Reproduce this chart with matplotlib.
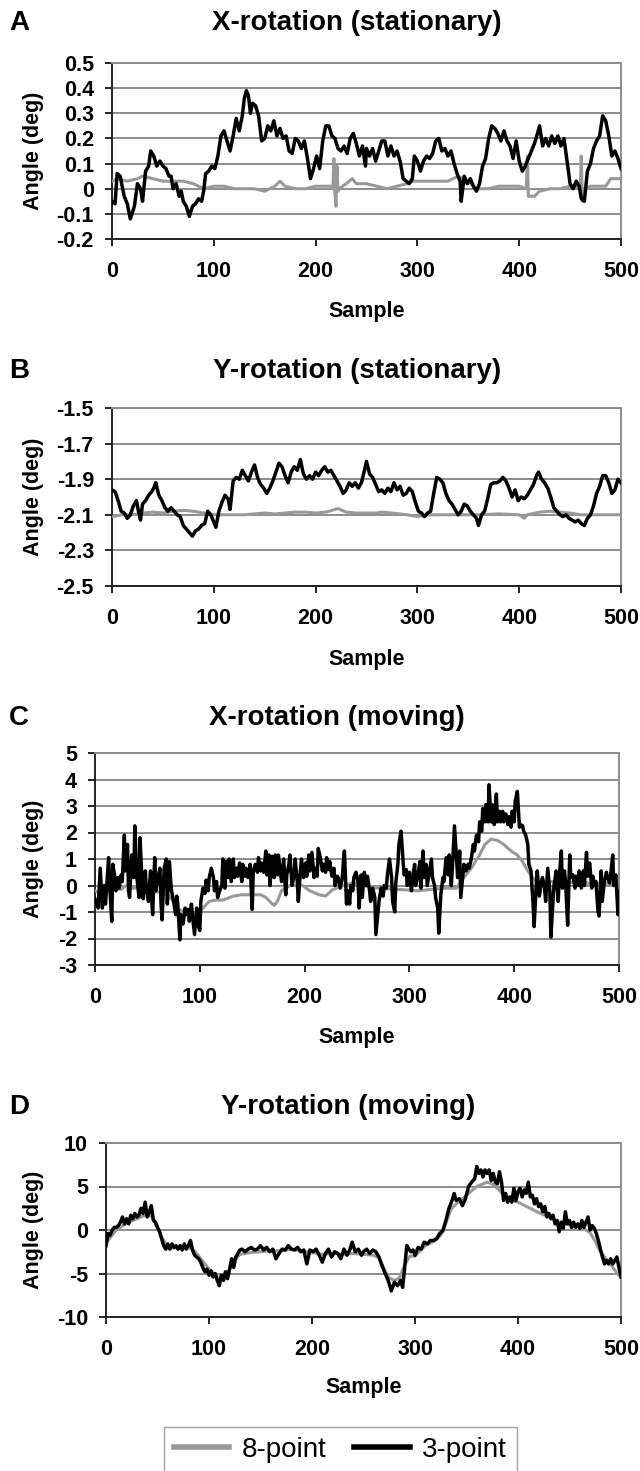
import matplotlib
matplotlib.use("Agg")
import matplotlib.pyplot as plt
from matplotlib.lines import Line2D

plt.rcParams['font.family'] = ['Liberation Sans', 'DejaVu Sans']
plt.rcParams['axes.unicode_minus'] = False

# ---- data: (sample, angle) pairs ----
# A: X-rotation (stationary)
a_gray = [(0, 0.03), (5, 0.04), (15, 0.03), (25, 0.04), (30, 0.05), (40, 0.04), (50, 0.03),
          (60, 0.03), (70, 0.03), (80, 0.02), (90, 0.0), (100, 0.01), (110, 0.01), (120, 0.0),
          (130, 0.0), (140, 0.0), (150, -0.01), (160, 0.01), (165, 0.03), (170, 0.01), (180, 0.0),
          (190, 0.0), (200, 0.01), (210, 0.01), (215, 0.01), (217, 0.0), (218, 0.12), (219, -0.02),
          (220, -0.07), (221, 0.09), (222, -0.01), (223, 0.0), (230, 0.02), (236, 0.04), (240, 0.02),
          (250, 0.02), (260, 0.01), (270, 0.0), (280, 0.01), (290, 0.02), (295, 0.03), (300, 0.03),
          (310, 0.03), (320, 0.03), (330, 0.03), (340, 0.05), (350, 0.03), (355, 0.01), (360, 0.0),
          (370, 0.0), (380, 0.01), (390, 0.01), (400, 0.01), (407, 0.0), (408, 0.13), (409, -0.03),
          (415, -0.03), (420, -0.01), (430, 0.0), (440, 0.0), (450, 0.01), (460, 0.01), (461, 0.13),
          (462, -0.05), (464, 0.0), (470, 0.01), (480, 0.01), (485, 0.01), (490, 0.04), (500, 0.04)]
a_black = [(0, -0.05), (3, -0.06), (5, 0.06), (8, 0.05), (12, -0.03), (15, -0.06), (18, -0.12),
           (22, -0.07), (25, 0.02), (28, 0.0), (30, -0.05), (33, 0.07), (36, 0.09), (38, 0.15),
           (41, 0.13), (44, 0.09), (47, 0.11), (50, 0.09), (53, 0.08), (56, 0.05), (58, 0.05),
           (60, 0.0), (63, 0.02), (66, -0.03), (68, -0.01), (70, -0.05), (73, -0.07), (76, -0.11),
           (79, -0.07), (82, -0.06), (85, -0.04), (88, -0.05), (90, -0.01), (92, 0.06), (95, 0.07),
           (98, 0.09), (101, 0.08), (104, 0.13), (107, 0.21), (110, 0.23), (113, 0.19), (116, 0.15),
           (119, 0.21), (122, 0.28), (125, 0.23), (128, 0.29), (130, 0.36), (132, 0.39), (134, 0.37),
           (136, 0.30), (138, 0.34), (141, 0.33), (144, 0.29), (147, 0.19), (150, 0.20), (153, 0.25),
           (156, 0.23), (159, 0.27), (162, 0.21), (165, 0.24), (168, 0.20), (171, 0.21), (174, 0.15),
           (177, 0.14), (180, 0.20), (183, 0.19), (186, 0.16), (189, 0.19), (192, 0.12), (195, 0.04),
           (198, 0.08), (201, 0.13), (204, 0.08), (207, 0.19), (210, 0.25), (213, 0.25), (216, 0.21),
           (219, 0.20), (222, 0.16), (225, 0.15), (228, 0.17), (231, 0.14), (234, 0.20), (237, 0.22),
           (240, 0.18), (243, 0.13), (246, 0.17), (249, 0.09), (250, 0.16), (253, 0.13), (256, 0.16),
           (259, 0.11), (262, 0.15), (265, 0.19), (268, 0.19), (271, 0.13), (274, 0.17), (277, 0.13),
           (280, 0.15), (283, 0.11), (286, 0.04), (289, 0.03), (292, 0.02), (295, 0.04), (297, 0.13),
           (300, 0.11), (303, 0.07), (306, 0.11), (309, 0.13), (312, 0.12), (315, 0.14), (318, 0.19),
           (321, 0.20), (324, 0.15), (327, 0.16), (330, 0.13), (333, 0.15), (336, 0.10), (339, 0.06),
           (342, 0.03), (343, -0.05), (346, 0.05), (349, 0.02), (352, 0.04), (355, 0.01), (358, -0.01),
           (361, 0.02), (364, 0.09), (367, 0.12), (370, 0.20), (373, 0.25), (376, 0.24), (379, 0.22),
           (382, 0.19), (385, 0.23), (388, 0.19), (391, 0.17), (394, 0.12), (397, 0.19), (400, 0.11),
           (403, 0.07), (406, 0.09), (409, 0.12), (412, 0.15), (415, 0.18), (418, 0.22), (420, 0.25),
           (423, 0.17), (426, 0.20), (429, 0.17), (432, 0.21), (435, 0.18), (438, 0.21), (441, 0.17),
           (444, 0.20), (447, 0.11), (450, 0.02), (453, 0.0), (456, 0.03), (459, 0.01), (461, -0.04),
           (464, -0.05), (467, 0.07), (470, 0.10), (473, 0.16), (476, 0.19), (479, 0.21), (482, 0.29),
           (485, 0.27), (488, 0.21), (491, 0.13), (494, 0.15), (497, 0.12), (500, 0.08)]

# B: Y-rotation (stationary)
b_gray = [(0, -2.11), (10, -2.10), (20, -2.10), (30, -2.09), (40, -2.085), (50, -2.09), (60, -2.08),
          (70, -2.075), (80, -2.08), (90, -2.09), (100, -2.10), (110, -2.10), (120, -2.10), (130, -2.10),
          (140, -2.095), (150, -2.09), (160, -2.095), (170, -2.09), (180, -2.085), (190, -2.085),
          (200, -2.09), (210, -2.085), (222, -2.065), (230, -2.085), (240, -2.09), (250, -2.09),
          (260, -2.09), (265, -2.085), (275, -2.09), (290, -2.10), (300, -2.11), (310, -2.10),
          (320, -2.10), (340, -2.10), (360, -2.10), (380, -2.095), (400, -2.10), (405, -2.12),
          (408, -2.10), (420, -2.085), (430, -2.08), (440, -2.085), (450, -2.09), (460, -2.10),
          (480, -2.10), (500, -2.10)]
b_black = [(0, -1.96), (3, -1.97), (6, -2.02), (9, -2.08), (12, -2.09), (15, -2.12), (18, -2.10),
           (21, -2.05), (24, -2.02), (26, -2.08), (28, -2.13), (30, -2.04), (33, -2.02), (36, -1.99),
           (39, -1.97), (41, -1.95), (43, -1.92), (46, -1.99), (49, -2.02), (52, -2.06), (55, -2.08),
           (58, -2.06), (61, -2.08), (64, -2.10), (67, -2.11), (70, -2.16), (73, -2.18), (76, -2.20),
           (79, -2.22), (82, -2.19), (85, -2.18), (88, -2.16), (91, -2.15), (94, -2.08), (97, -2.10),
           (100, -2.14), (102, -2.17), (105, -2.08), (108, -2.03), (111, -1.99), (114, -2.01),
           (116, -2.07), (119, -1.91), (122, -1.89), (125, -1.90), (128, -1.85), (131, -1.88),
           (134, -1.91), (137, -1.86), (140, -1.82), (143, -1.89), (146, -1.93), (149, -1.95),
           (152, -1.98), (155, -1.95), (158, -1.91), (161, -1.86), (164, -1.81), (167, -1.83),
           (170, -1.88), (173, -1.92), (176, -1.86), (179, -1.83), (182, -1.85), (185, -1.79),
           (188, -1.87), (191, -1.90), (194, -1.88), (197, -1.90), (200, -1.86), (203, -1.88),
           (206, -1.85), (209, -1.83), (212, -1.86), (215, -1.85), (218, -1.88), (221, -1.91),
           (224, -1.94), (227, -1.98), (230, -1.96), (233, -1.92), (236, -1.94), (239, -1.92),
           (242, -1.95), (245, -1.92), (248, -1.85), (250, -1.80), (253, -1.87), (256, -1.89),
           (259, -1.93), (262, -1.97), (265, -1.96), (268, -1.98), (271, -1.95), (274, -1.97),
           (277, -1.92), (280, -1.96), (283, -1.94), (286, -1.99), (289, -1.98), (292, -1.95),
           (295, -1.97), (298, -2.03), (301, -2.08), (304, -2.09), (307, -2.11), (310, -2.09),
           (313, -2.08), (316, -1.98), (319, -1.89), (322, -1.90), (325, -1.92), (328, -1.98),
           (331, -2.02), (334, -2.04), (337, -2.07), (340, -2.10), (343, -2.08), (346, -2.04),
           (349, -2.05), (352, -2.08), (355, -2.10), (358, -2.12), (360, -2.16), (363, -2.10),
           (366, -2.08), (369, -2.01), (372, -1.93), (375, -1.92), (378, -1.92), (381, -1.91),
           (384, -1.89), (387, -1.91), (390, -1.95), (393, -2.00), (396, -1.96), (399, -2.02),
           (402, -2.00), (405, -2.01), (408, -1.99), (411, -1.96), (414, -1.93), (417, -1.88),
           (419, -1.86), (422, -1.90), (425, -1.92), (428, -1.95), (431, -2.00), (434, -2.06),
           (437, -2.08), (440, -2.10), (443, -2.11), (446, -2.10), (449, -2.12), (452, -2.13),
           (455, -2.14), (458, -2.13), (461, -2.15), (464, -2.16), (467, -2.12), (470, -2.10),
           (473, -2.05), (476, -1.98), (479, -1.94), (482, -1.88), (485, -1.88), (488, -1.92),
           (491, -1.98), (494, -1.96), (497, -1.90), (500, -1.92)]

# C: X-rotation (moving)
c_gray = [(0, -0.2), (5, -0.3), (10, -0.1), (15, -0.2), (20, -0.1), (25, -0.15), (30, 0.0), (35, -0.1),
          (40, -0.1), (45, -0.15), (50, -0.2), (55, -0.2), (60, -0.25), (65, -0.3), (70, -0.4),
          (75, -0.6), (80, -0.9), (85, -1.0), (90, -1.1), (95, -1.1), (100, -1.0), (103, -0.85),
          (109, -0.6), (115, -0.55), (122, -0.55), (132, -0.4), (140, -0.35), (150, -0.35),
          (158, -0.35), (163, -0.45), (168, -0.65), (171, -0.75), (174, -0.6), (178, -0.2), (186, 0.0),
          (198, 0.0), (205, -0.2), (214, -0.35), (220, -0.4), (227, -0.15), (237, 0.0), (246, 0.1),
          (255, 0.0), (270, -0.1), (290, -0.15), (308, -0.2), (320, -0.15), (333, -0.1), (345, -0.1),
          (352, 0.3), (359, 0.65), (367, 1.15), (372, 1.55), (378, 1.75), (384, 1.7), (390, 1.55),
          (397, 1.3), (403, 1.15), (408, 0.9), (413, 0.55), (418, 0.3), (422, 0.1), (435, 0.15),
          (450, 0.1), (467, 0.15), (474, 0.0), (485, 0.1), (500, 0.0)]
c_black = [(0, -0.5), (3, -0.85), (5, 0.65), (7, -0.85), (9, 0.0), (10, -0.7), (13, 1.05), (14, 0.0),
           (16, -1.35), (17, 0.8), (19, 0.3), (20, -0.2), (22, 0.3), (23, -0.1), (25, 0.4), (26, 0.15),
           (28, 1.9), (29, 0.55), (31, 1.55), (32, -0.2), (33, -0.45), (35, 1.15), (37, 0.3), (38, 2.25),
           (40, 0.3), (42, -0.45), (43, 1.8), (45, 0.0), (46, -0.5), (48, 0.55), (49, -0.1), (51, -0.6),
           (53, 0.55), (54, -0.45), (55, -1.1), (57, 1.05), (58, -0.2), (60, 0.3), (62, 0.65), (63, -0.7),
           (64, -1.3), (66, 0.65), (68, 1.0), (69, -0.7), (71, 0.9), (72, 0.3), (73, -0.2), (75, -0.6),
           (77, -1.1), (78, -0.4), (79, -0.7), (81, -2.05), (82, -1.1), (84, -1.45), (86, -0.85),
           (87, -1.1), (89, -0.9), (90, -1.35), (92, -0.7), (93, -1.15), (95, -1.85), (97, -0.85),
           (98, -1.45), (100, -1.7), (101, -0.6), (103, -0.1), (105, -0.3), (106, 0.2), (108, -0.2),
           (109, 0.3), (111, 0.65), (113, 0.3), (114, -0.2), (116, 0.15), (117, -0.45), (119, -0.2),
           (121, 0.0), (122, 1.0), (124, -0.1), (125, 0.9), (127, 0.3), (128, 1.0), (130, 0.15),
           (132, 1.0), (133, 0.3), (135, 0.65), (136, 0.35), (138, 0.85), (140, 0.15), (141, 0.8),
           (143, 0.35), (144, 0.65), (146, 0.3), (148, 0.8), (150, -0.9), (151, 0.55), (153, 0.8),
           (155, 0.5), (156, 1.05), (158, 0.55), (159, 0.85), (161, 0.5), (163, 1.3), (164, 0.4),
           (166, 1.15), (167, 0.0), (169, 1.1), (171, 0.3), (172, 1.15), (174, 0.4), (175, 1.15),
           (177, 0.5), (178, 0.15), (180, 1.0), (182, -0.35), (183, 0.4), (185, 0.8), (186, 1.15),
           (188, 0.0), (190, 0.4), (191, 1.0), (193, 0.15), (194, -0.6), (196, 0.55), (197, 1.0),
           (199, 0.3), (201, 0.85), (202, 0.35), (204, 1.15), (205, 0.55), (207, 1.25), (209, 0.3),
           (210, 0.65), (212, 0.35), (213, 1.4), (215, 1.05), (217, 0.55), (218, 0.8), (220, 0.5),
           (221, 1.05), (223, 0.6), (224, 0.9), (226, 0.35), (228, 0.65), (229, 0.0), (231, 0.35),
           (232, 0.3), (234, -0.1), (236, 0.3), (237, 0.9), (238, 1.3), (240, -0.7), (241, -0.2),
           (243, -0.7), (244, 0.0), (246, -0.2), (247, 0.3), (249, 0.5), (251, 0.15), (252, -0.85),
           (254, 0.4), (255, -0.45), (257, 0.5), (259, 0.0), (260, 0.35), (262, -0.2), (263, -0.6),
           (265, -0.1), (267, -0.45), (268, -1.85), (270, -1.0), (271, -0.6), (273, -0.1), (275, -0.4),
           (276, 0.0), (278, -0.1), (279, 0.4), (281, 1.0), (283, 0.3), (284, -0.6), (286, -1.0),
           (287, 0.1), (289, 0.8), (290, 1.55), (292, 2.05), (294, 0.9), (295, 0.4), (297, 0.6),
           (298, 0.0), (300, 0.5), (302, -0.2), (303, 0.3), (305, 0.8), (306, 0.0), (308, 0.35),
           (310, 0.9), (311, -0.1), (313, 1.3), (314, 0.3), (316, 0.8), (317, 0.0), (319, 0.5),
           (321, 1.0), (322, 0.3), (324, 0.0), (325, -0.45), (327, -0.85), (328, -1.8), (330, -0.35),
           (332, 0.3), (333, 0.15), (335, 1.05), (337, 0.4), (338, 1.15), (340, 0.0), (341, 0.65),
           (343, 2.25), (345, 1.0), (346, 0.3), (348, 1.3), (349, -0.45), (351, 0.4), (352, 0.8),
           (354, 0.55), (356, 0.8), (357, 0.65), (359, 1.0), (361, 1.55), (362, 1.3), (364, 1.9),
           (366, 1.65), (367, 2.4), (369, 2.05), (370, 2.9), (372, 2.4), (373, 3.05), (375, 2.4),
           (376, 3.8), (378, 2.4), (379, 3.05), (381, 2.3), (383, 3.45), (384, 2.4), (386, 2.8),
           (387, 2.4), (389, 2.8), (390, 2.4), (392, 2.7), (394, 2.3), (395, 2.6), (397, 2.2),
           (398, 2.8), (400, 2.4), (401, 3.2), (403, 3.55), (405, 2.2), (406, 2.3), (408, 2.25),
           (409, 2.05), (411, 1.9), (413, 1.55), (414, 0.8), (416, 0.55), (418, -0.7), (419, -1.55),
           (421, 0.0), (422, 0.55), (424, -0.4), (426, 0.15), (427, 0.3), (429, -0.1), (430, -0.6),
           (432, 0.65), (434, -0.2), (435, -1.95), (437, -0.6), (438, 0.0), (440, 0.55), (442, -0.6),
           (443, 0.3), (445, 1.3), (446, -0.1), (448, 0.55), (449, 0.15), (451, -1.5), (453, 1.15),
           (454, 0.3), (456, 0.4), (458, -0.1), (459, 0.35), (461, 0.0), (462, 0.55), (464, -0.1),
           (466, 0.55), (467, 0.0), (469, 1.25), (470, 0.35), (472, 0.85), (474, -0.1), (475, 0.35),
           (477, 0.0), (478, 0.15), (480, -1.0), (481, -1.15), (483, 0.55), (484, -0.6), (486, 0.15),
           (488, 0.5), (489, 0.3), (491, 0.1), (492, 0.4), (494, 1.15), (495, 0.0), (497, 0.4),
           (499, -1.1), (500, -0.2)]

# D: Y-rotation (moving)
d_gray = [(0, -1.5), (10, 0.0), (20, 0.8), (30, 1.3), (40, 1.8), (45, 1.5), (50, 0.2), (55, -1.0),
          (60, -2.0), (70, -2.1), (80, -2.0), (85, -2.3), (90, -3.0), (100, -4.5), (110, -5.6),
          (115, -5.5), (120, -4.5), (125, -3.5), (130, -2.8), (140, -2.6), (150, -2.5), (160, -2.4),
          (170, -2.4), (180, -2.2), (190, -2.4), (200, -2.6), (210, -2.8), (220, -2.7), (230, -2.8),
          (240, -2.7), (250, -2.8), (260, -2.9), (265, -3.2), (270, -4.5), (275, -5.5), (280, -5.8),
          (285, -5.5), (290, -4.0), (295, -3.0), (300, -3.0), (305, -2.4), (310, -1.8), (320, -1.2),
          (325, -0.6), (330, 0.8), (335, 2.4), (340, 3.0), (350, 4.0), (360, 5.0), (370, 5.5),
          (375, 5.3), (380, 4.8), (390, 3.5), (400, 3.2), (410, 2.6), (420, 2.0), (430, 1.5),
          (440, 0.9), (450, 0.6), (460, 0.4), (470, -0.3), (475, -1.3), (480, -2.5), (490, -4.0),
          (500, -5.5)]
d_black = [(0, -1.8), (2, -0.4), (4, -0.6), (6, 0.0), (8, 0.3), (10, 0.3), (12, 0.5), (14, 0.9),
           (16, 1.5), (18, 0.7), (20, 1.3), (22, 0.7), (24, 1.7), (26, 1.3), (28, 1.9), (30, 1.5),
           (32, 1.7), (34, 2.5), (36, 1.9), (38, 3.2), (40, 1.5), (42, 2.1), (44, 2.8), (46, 1.1),
           (48, 0.9), (50, 0.3), (52, -0.2), (54, -1.0), (56, -1.8), (58, -2.2), (60, -1.6), (62, -2.2),
           (64, -1.6), (66, -2.0), (68, -1.8), (70, -2.2), (72, -1.8), (74, -2.3), (76, -1.6), (78, -2.2),
           (80, -1.8), (82, -1.2), (84, -2.3), (86, -2.9), (88, -3.1), (90, -3.3), (92, -3.7), (94, -4.3),
           (96, -4.8), (98, -4.5), (100, -5.2), (102, -4.7), (104, -5.4), (106, -5.0), (108, -5.8),
           (110, -6.4), (112, -5.2), (114, -5.8), (116, -4.8), (118, -5.6), (120, -4.5), (122, -3.3),
           (124, -4.3), (126, -3.1), (128, -2.7), (130, -2.3), (132, -2.2), (135, -2.5), (138, -2.2),
           (141, -2.0), (144, -2.3), (147, -2.2), (150, -1.8), (153, -2.3), (156, -2.0), (159, -2.5),
           (162, -2.2), (165, -3.3), (168, -2.7), (171, -2.2), (174, -2.3), (177, -1.8), (180, -2.2),
           (183, -2.3), (186, -2.0), (189, -2.5), (192, -2.3), (195, -3.9), (198, -2.3), (201, -2.5),
           (204, -2.2), (207, -2.9), (210, -3.7), (213, -2.7), (216, -2.2), (219, -3.1), (222, -2.5),
           (225, -2.7), (228, -3.3), (231, -2.2), (234, -2.9), (237, -2.2), (239, -1.4), (242, -2.5),
           (245, -2.2), (248, -2.9), (250, -2.5), (253, -2.2), (256, -2.7), (259, -2.3), (262, -2.5),
           (265, -3.1), (268, -4.1), (271, -5.0), (274, -5.8), (277, -7.0), (280, -6.0), (283, -6.4),
           (286, -5.8), (288, -6.6), (290, -4.3), (292, -1.8), (294, -2.2), (296, -2.5), (298, -2.3),
           (300, -2.9), (303, -2.0), (306, -2.2), (309, -1.4), (312, -1.6), (315, -1.2), (318, -1.2),
           (321, -1.0), (324, -0.4), (327, -0.1), (330, 1.1), (333, 2.5), (336, 3.4), (338, 4.2),
           (340, 3.4), (343, 3.6), (346, 2.8), (349, 3.6), (352, 5.0), (355, 5.5), (358, 5.9),
           (360, 7.3), (362, 6.5), (364, 6.9), (366, 6.1), (368, 6.9), (370, 6.5), (372, 6.9),
           (374, 5.7), (376, 6.5), (378, 5.5), (380, 5.3), (382, 6.7), (384, 5.5), (386, 3.4),
           (388, 4.2), (390, 3.2), (392, 3.8), (394, 3.2), (396, 4.8), (398, 3.4), (400, 4.4),
           (402, 4.8), (404, 3.8), (406, 4.6), (408, 4.2), (410, 5.5), (412, 3.8), (414, 4.0),
           (416, 3.0), (418, 3.6), (420, 2.7), (422, 3.0), (424, 2.1), (426, 2.7), (428, 1.5),
           (430, 1.9), (432, 1.3), (434, 1.7), (436, 0.7), (438, 1.1), (440, -0.2), (442, 0.9),
           (444, 0.2), (446, 2.1), (448, 0.7), (450, 1.1), (452, 0.3), (454, 0.9), (456, 0.3),
           (458, 0.7), (460, 0.2), (462, 1.1), (464, 0.3), (466, 0.9), (468, 1.5), (470, 0.0),
           (472, 0.5), (474, 0.2), (476, -0.4), (478, -1.2), (480, -2.2), (482, -3.1), (484, -3.9),
           (486, -3.5), (488, -3.9), (490, -3.3), (492, -3.9), (494, -3.5), (496, -3.1), (498, -4.3),
           (500, -5.4)]

x_ticks = [0, 100, 200, 300, 400, 500]
a_yticks = [-0.2, -0.1, 0, 0.1, 0.2, 0.3, 0.4, 0.5]
a_ylabels = ['-0.2', '-0.1', '0', '0.1', '0.2', '0.3', '0.4', '0.5']
b_yticks = [-2.5, -2.3, -2.1, -1.9, -1.7, -1.5]
b_ylabels = ['-2.5', '-2.3', '-2.1', '-1.9', '-1.7', '-1.5']
c_yticks = [-3, -2, -1, 0, 1, 2, 3, 4, 5]
c_ylabels = ['-3', '-2', '-1', '0', '1', '2', '3', '4', '5']
d_yticks = [-10, -5, 0, 5, 10]
d_ylabels = ['-10', '-5', '0', '5', '10']

# ---- layout (pixel boxes measured on the reference) ----
W, H = 640, 1471
GRAY = '#999999'
GRID = '#8c8c8c'

fig = plt.figure(figsize=(W / 100, H / 100), dpi=100)

panels = [
    dict(letter='A', title='X-rotation (stationary)', box=(112, 63, 621, 239), title_xy=(357, 23),
         ylim=(-0.2, 0.5), yt=a_yticks, yl=a_ylabels, gray=a_gray, black=a_black, label_y=312),
    dict(letter='B', title='Y-rotation (stationary)', box=(112, 408, 621, 586), title_xy=(357, 371),
         ylim=(-2.5, -1.5), yt=b_yticks, yl=b_ylabels, gray=b_gray, black=b_black, label_y=659),
    dict(letter='C', title='X-rotation (moving)', box=(95, 753, 619, 965), title_xy=(337, 718),
         ylim=(-3, 5), yt=c_yticks, yl=c_ylabels, gray=c_gray, black=c_black, label_y=1038),
    dict(letter='D', title='Y-rotation (moving)', box=(106, 1143, 621, 1317), title_xy=(348, 1107),
         ylim=(-10, 10), yt=d_yticks, yl=d_ylabels, gray=d_gray, black=d_black, label_y=1388),
]

for p in panels:
    l, t, r, b = p['box']
    ax = fig.add_axes([l / W, 1 - b / H, (r - l) / W, (b - t) / H])
    gx, gy = zip(*p['gray'])
    bx, by = zip(*p['black'])
    ax.plot(gx, gy, color=GRAY, lw=2.2, zorder=3)
    ax.plot(bx, by, color='black', lw=2.5, zorder=4)

    ax.set_xlim(0, 500)
    ax.set_ylim(*p['ylim'])
    ax.set_xticks(x_ticks)
    ax.set_xticklabels([str(v) for v in x_ticks])
    ax.set_yticks(p['yt'])
    ax.set_yticklabels(p['yl'])
    ax.grid(axis='y', color=GRID, lw=1.4, zorder=1)
    ax.set_axisbelow(True)
    for s in ['top', 'right']:
        ax.spines[s].set_color(GRID)
        ax.spines[s].set_linewidth(1.4)
    for s in ['left', 'bottom']:
        ax.spines[s].set_color('#222222')
        ax.spines[s].set_linewidth(1.4)
    for lab in ax.get_xticklabels() + ax.get_yticklabels():
        lab.set_fontweight('bold')
    ax.tick_params(axis='x', direction='out', length=5, width=1.2, labelsize=15.5, pad=11)
    ax.tick_params(axis='y', direction='out', length=5, width=1.2, labelsize=15.5, pad=8)

    fig.text(p['title_xy'][0] / W, 1 - p['title_xy'][1] / H, p['title'], ha='center', va='center',
             fontsize=20, fontweight='bold')
    fig.text(9 / W, 1 - p['title_xy'][1] / H, p['letter'], ha='left', va='center',
             fontsize=20, fontweight='bold')
    fig.text(33 / W, 1 - (t + b) / 2 / H, 'Angle (deg)', ha='center', va='center',
             rotation=90, fontsize=15.5, fontweight='bold')
    fig.text((l + r) / 2 / W, 1 - p['label_y'] / H, 'Sample', ha='center', va='center',
             fontsize=15.5, fontweight='bold')

handles = [Line2D([], [], color=GRAY, lw=4), Line2D([], [], color='black', lw=4)]
fig.legend(handles=handles, labels=['8-point', '3-point'], loc='upper left',
           bbox_to_anchor=(164 / W, 1 - 1427 / H), ncol=2, frameon=True, fancybox=False,
           edgecolor=GRID, prop=dict(size=20), handlelength=2.0, handletextpad=0.45,
           columnspacing=1.0, borderpad=0.35, borderaxespad=0)

fig.savefig('out.png', dpi=100)
